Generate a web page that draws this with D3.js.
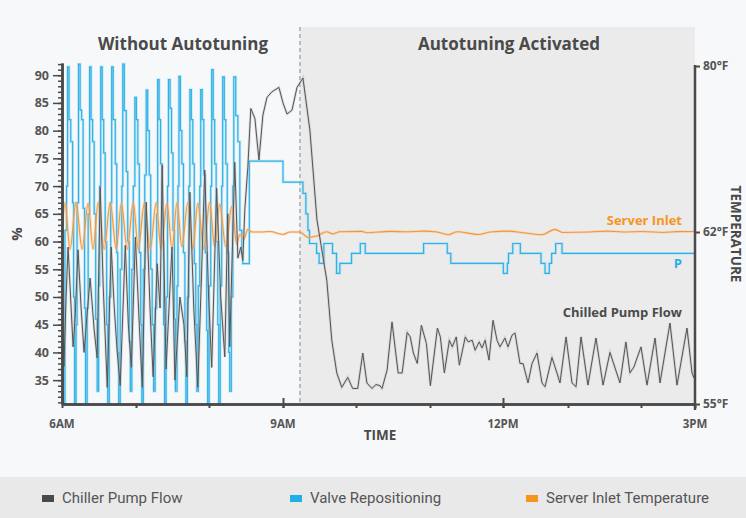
<!DOCTYPE html>
<html>
<head>
<meta charset="utf-8">
<script src="https://cdn.jsdelivr.net/npm/d3@7"></script>
<style>
  body { margin: 0; background: #f7f8fa; }
  svg { display: block; }
</style>
</head>
<body>
<script>
var width = 746;
var height = 518;

// time is minutes after 6AM
var hourTicks = [0, 60, 120, 180, 240, 300, 360, 420, 480, 540];
var hourLabels = {0: "6AM", 180: "9AM", 360: "12PM", 540: "3PM"};
var pctTicks = [35, 40, 45, 50, 55, 60, 65, 70, 75, 80, 85, 90];
var tempTicks = [80, 62, 55];
var autotuneStart = 193.9;

var legendLabels = ["Chiller Pump Flow", "Valve Repositioning", "Server Inlet Temperature"];
var legendColors = ["#4a4a4a", "#1fb0e6", "#f7941e"];

// chiller pump flow, %
var chillerFlow = [
  [0,45.8],[1.6,37.5],[3.3,50],[4.9,59],[6.5,52],[9.0,41],[10.6,46],[13.0,58.5],[15.5,48],[17.9,40],
  [20.4,47],[22.8,53.4],[26.1,44],[28.5,39],[31.0,69.8],[33.4,52],[36.7,33.7],[39.9,59],[42.4,48],[44.8,40],
  [47.2,34],[51.3,59.3],[53.8,45],[56.2,37.3],[59.5,60.8],[62.7,45],[65.2,33.7],[68.4,67.1],[71.7,47],[74.1,35.6],
  [77.4,56],[79.8,48],[81.5,73.8],[84.7,37],[88.0,52],[89.6,59],[92.0,35],[96.1,50],[99.4,45],[101.8,35.6],
  [104.3,68.9],[107.5,48],[110.8,33.7],[114.0,55],[116.5,72.9],[119.7,50],[122.2,37.3],[126.2,69.6],[129.5,50],[132.8,39.2],
  [135.2,65],[136.8,41],[138.5,55],[140.9,74.3],[143.4,57],[145.8,59],[147.4,56.6],[149.1,66],[151.5,73.4],[153.9,84],
  [157.2,82.2],[160.5,74.7],[163.7,82.8],[167.0,86],[171.0,87],[176.7,87.8],[180,85],[183.3,83],[187.4,83.7],[191.5,87.8],
  [196.4,89.5],[202.1,80.1],[207.9,63.9],[216.0,53],[220.1,42.2],[224.2,36.3],[228.3,33.7],[233.2,35.5],[237.3,33.5],[241.4,33.5],
  [245.5,39.9],[248.8,34.5],[252.9,33.5],[256.2,34.2],[259.5,34],[261.1,33.5],[265.2,36.8],[269.2,45.5],[274.2,36.3],[277.4,36.3],
  [281.5,43.6],[284.0,42.8],[286.5,39.9],[289.7,38],[293.0,44.9],[297.1,41.6],[300.3,34],[306.1,44.4],[308.5,42.8],[311.8,36.3],
  [315.9,42.2],[318.3,41],[321.6,42.8],[324.1,37.7],[329.0,42.8],[331.4,41.9],[334.7,42.2],[337.1,40.4],[340.4,41.9],[342.8,40.8],
  [345.3,42.2],[348.5,38.6],[351.8,45.8],[355.1,42.2],[357.5,41],[361.8,42.6],[364.6,41],[368.3,43.1],[371.1,43.5],[375.7,38],
  [378.5,38],[383.1,34.5],[386.8,38],[391.4,39.9],[396.0,34.5],[398.8,33.8],[405.2,39.1],[409.8,36.3],[412.6,34.5],[418.2,42.8],
  [423.3,34.5],[426.6,33.8],[430.7,42.8],[436.4,34.1],[443.0,42.6],[448.8,34.1],[454.5,40],[462.7,34.5],[467.6,41.9],[470.9,36.3],
  [474.2,37.4],[480,41],[486.7,34.1],[495.6,42.6],[501.1,34.5],[512.2,45.3],[520.0,34.1],[531.1,44.4],[536.7,36.3],[538.9,35.4]
];

// valve repositioning, % (stepped)
var valvePosition = [
  [0,48],[1.2,28],[2.4,62],[3.7,70],[4.5,91.5],[5.7,82],[7.1,78],[8.6,67],[9.4,50],[10.2,28],
  [11.4,45],[12.2,67],[13.4,92],[14.7,83.7],[15.9,82],[17.1,66],[18.3,48],[19.1,28],[20.4,48],[21.2,65],
  [22.4,91.5],[23.6,82],[24.8,78],[26.1,65],[27.3,46],[28.5,33],[29.7,52],[30.5,70],[31.4,91.5],[32.6,82],
  [33.8,76],[35.0,60],[36.2,45],[37.1,28],[38.3,50],[39.5,67],[40.3,91.5],[41.5,82],[43.2,74],[44.4,58],
  [45.2,40],[46.0,28],[47.2,55],[48.5,70],[49.3,92],[50.5,83.6],[52.1,72.6],[53.3,60],[54.6,42],[55.4,33],
  [56.6,55],[57.8,70],[59.1,86],[60.3,82],[61.5,74],[62.7,58],[63.9,45],[64.8,30],[66.0,55],[67.2,72],
  [68.4,87.3],[69.6,80],[70.9,72],[72.1,55],[73.3,45],[74.5,33],[75.7,48],[77.0,65],[77.8,89.2],[79.0,82],
  [80.2,74],[81.5,60],[82.7,45],[83.5,28],[84.7,50],[85.9,70],[86.7,89.2],[88.0,84],[89.2,76],[90.4,62],
  [91.6,46],[92.4,33],[93.7,52],[94.5,70],[95.3,89.8],[96.5,80],[97.7,74],[99.0,58],[100.2,42],[101.0,28],
  [102.2,50],[103.4,70],[104.3,87.4],[105.5,82],[106.7,74],[107.9,56],[109.1,45],[110.0,33],[111.2,52],[112.4,70],
  [113.2,87.4],[114.4,82],[115.7,72],[116.9,58],[118.1,44],[118.9,30],[120.1,52],[121.4,70],[122.2,91],[123.4,82],
  [124.6,74],[125.8,60],[127.1,45],[127.9,28],[129.1,52],[130.3,70],[131.1,89.7],[132.4,82],[133.6,74],[134.8,58],
  [136.0,40],[136.8,33],[138.1,50],[139.3,70],[140.1,89.7],[141.7,82.7],[143.4,78],[145.0,62],[146.6,58],[147.4,56],
  [152.7,74.5],[180,70.7],[196.4,68.7],[198.8,65],[200.5,62],[201.8,59.65],[207.6,57.85],[209.7,56.05],[213.6,59.65],[220.7,57.85],
  [224.0,54.25],[226.7,56.05],[236.3,57.85],[243.5,59.65],[247.5,57.85],[294.8,59.65],[314.2,57.85],[317.1,56.05],[360.3,54.25],[364.0,56.05],
  [365.1,57.85],[369.0,59.65],[376.0,57.85],[395.1,56.05],[398.8,54.25],[402.7,56.05],[404.9,57.85],[408.6,59.65],[414.5,57.85],[539,57.85]
];

// server inlet temperature, °F
var serverInlet = [
  [0,61.6],[2.4,65.2],[6.5,61.3],[11.4,65.2],[16.3,61.3],[21.2,65.1],[25.2,61.3],[29.3,65.2],[34.2,61.3],[39.1,65.2],
  [44.0,61.3],[48.1,65.1],[52.9,61.3],[57.8,65.2],[61.9,61.3],[66.8,65.1],[71.7,61.3],[76.6,65.2],[80.6,61.3],[85.5,65.1],
  [89.6,61.3],[93.7,65.2],[97.7,61.4],[102.6,65.2],[106.7,61.3],[110.8,65.1],[115.7,61.3],[120.5,65.2],[124.6,61.4],[128.7,65],
  [133.6,61.4],[138.5,64.8],[142.5,61.5],[145.0,61.9],[148.2,61.7],[151.5,62.3],[154.8,62.0],[161.3,62.0],[169.4,62.05],[180,61.9],
  [185.7,62.0],[193.9,62.0],[200.5,61.78],[207.8,61.84],[216.0,62.03],[220.9,61.92],[226.6,62.03],[244.6,62.07],[248.7,61.97],[267.5,62.07],
  [281.4,62.02],[294.5,62.1],[306.0,62.0],[315.0,61.89],[322.3,62.02],[339.5,61.9],[349.4,62.0],[364.6,62.1],[378.5,61.97],[396.0,61.89],
  [408.0,62.29],[415.4,61.98],[438.1,62.0],[452.1,62.1],[465.2,62.0],[482.2,62.05],[504.4,61.98],[520.0,62.04],[537.8,62.05],[540,62.05]
];

var svg = d3.select("body")
            .append("svg")
            .attr("width", width)
            .attr("height", height);

var x = d3.scaleLinear()
          .domain(hourTicks)
          .range([62, 136, 209, 283, 356, 430, 503, 568, 641, 695]);
var y = d3.scaleLinear().domain([30.7, 92.2]).range([404, 63]);
var yTemp = d3.scaleLinear().domain([55, 62, 80]).range([404, 232, 66]);

var font = "'Open Sans', sans-serif";
var ink = "#4a4a4a";

svg.append("rect").attr("width", width).attr("height", height).attr("fill", "#f7f8fa");

// shaded autotuning region
svg.append("rect")
  .attr("x", x(autotuneStart))
  .attr("y", 27)
  .attr("width", x(540) - x(autotuneStart))
  .attr("height", 404 - 27)
  .attr("fill", "#ebebeb");

svg.append("line")
  .attr("x1", x(autotuneStart)).attr("x2", x(autotuneStart))
  .attr("y1", 27).attr("y2", 404)
  .attr("stroke", "#9a9a9a")
  .attr("stroke-width", 1.2)
  .attr("stroke-dasharray", "4,3");

// section titles
svg.append("text")
  .attr("x", 183).attr("y", 50)
  .attr("text-anchor", "middle")
  .style("font", "700 17px " + font)
  .attr("fill", ink)
  .text("Without Autotuning");
svg.append("text")
  .attr("x", 509).attr("y", 50)
  .attr("text-anchor", "middle")
  .style("font", "700 17px " + font)
  .attr("fill", ink)
  .text("Autotuning Activated");

svg.append("clipPath").attr("id", "plot")
  .append("rect").attr("x", 62).attr("y", 56).attr("width", 633).attr("height", 348);

var plot = svg.append("g").attr("clip-path", "url(#plot)");

var pctLine = d3.line().x(function(d) { return x(d[0]); }).y(function(d) { return y(d[1]); });
var stepLine = d3.line().curve(d3.curveStepAfter).x(function(d) { return x(d[0]); }).y(function(d) { return y(d[1]); });
var tempLine = d3.line().curve(d3.curveMonotoneX).x(function(d) { return x(d[0]); }).y(function(d) { return yTemp(d[1]); });

var drawSeries = function(data, gen, under, over, w) {
  plot.append("path").datum(data).attr("d", gen)
    .attr("fill", "none").attr("stroke", under).attr("stroke-width", w + 1.6).attr("opacity", 0.45);
  plot.append("path").datum(data).attr("d", gen)
    .attr("fill", "none").attr("stroke", over).attr("stroke-width", w);
};

drawSeries(valvePosition, stepLine, "#8fd4f2", "#2fb2e6", 1.2);
drawSeries(serverInlet, tempLine, "#f9c48c", "#f4963a", 1.1);
drawSeries(chillerFlow, pctLine, "#b5b5b5", "#555555", 1.0);

// left axis
var left = svg.append("g").attr("transform", "translate(62,0)");
left.call(d3.axisLeft(y).tickValues(d3.range(31, 93)).tickSize(4).tickSizeOuter(0).tickFormat(""));
left.append("g").call(d3.axisLeft(y).tickValues(pctTicks).tickSize(9).tickSizeOuter(0));
left.selectAll("path.domain").attr("stroke", ink).attr("stroke-width", 2.5);
left.selectAll("line").attr("stroke", ink).attr("stroke-width", 1.5);
left.selectAll("text").style("font", "700 12.5px " + font).attr("fill", "#555").attr("x", -13);

// bottom axis
var bottom = svg.append("g").attr("transform", "translate(0,404)");
bottom.call(d3.axisBottom(x).tickValues(hourTicks).tickSize(4).tickSizeOuter(0).tickFormat(""));
bottom.append("g").call(d3.axisBottom(x).tickValues([180, 360]).tickSize(4).tickSizeOuter(0).tickFormat(""))
  .selectAll(".tick line").attr("y1", -6).attr("y2", 4);
bottom.selectAll("path.domain").attr("stroke", ink).attr("stroke-width", 2.5);
bottom.selectAll("line").attr("stroke", ink).attr("stroke-width", 2);
bottom.selectAll("text.hour").data([0, 180, 360, 540]).enter().append("text")
  .attr("class", "hour")
  .attr("x", function(d) { return x(d); })
  .attr("y", 24)
  .attr("text-anchor", "middle")
  .style("font", "700 11.5px " + font)
  .attr("fill", "#555")
  .text(function(d) { return hourLabels[d]; });

// right axis
var right = svg.append("g").attr("transform", "translate(695,0)");
right.call(d3.axisRight(yTemp).tickValues(tempTicks).tickSize(5).tickSizeOuter(0)
  .tickFormat(function(d) { return d + "°F"; }));
right.select("path.domain").attr("d", "M0," + (yTemp(80) - 1) + "V410");
right.selectAll("path.domain").attr("stroke", ink).attr("stroke-width", 2.5);
right.selectAll("line").attr("stroke", ink).attr("stroke-width", 2);
right.selectAll("text").style("font", "700 12px " + font).attr("fill", "#555").attr("x", 8);

// axis titles
svg.append("text")
  .attr("transform", "translate(22,234) rotate(-90)")
  .attr("text-anchor", "middle")
  .style("font", "700 15px " + font)
  .attr("fill", ink)
  .text("%");
svg.append("text")
  .attr("transform", "translate(731,234) rotate(90)")
  .attr("text-anchor", "middle")
  .style("font", "700 13.5px " + font)
  .attr("fill", ink)
  .text("TEMPERATURE");
svg.append("text")
  .attr("x", 380).attr("y", 440)
  .attr("text-anchor", "middle")
  .style("font", "700 13.5px " + font)
  .attr("fill", ink)
  .text("TIME");

// series annotations
svg.append("text").attr("x", 682).attr("y", 225).attr("text-anchor", "end")
  .style("font", "700 13px " + font).attr("fill", "#f7941e").text("Server Inlet");
svg.append("text").attr("x", 682).attr("y", 268).attr("text-anchor", "end")
  .style("font", "700 13px " + font).attr("fill", "#1fb0e6").text("P");
svg.append("text").attr("x", 682).attr("y", 317).attr("text-anchor", "end")
  .style("font", "700 13px " + font).attr("fill", ink).text("Chilled Pump Flow");

// legend
svg.append("rect").attr("x", 0).attr("y", 477).attr("width", width).attr("height", 41).attr("fill", "#e9e9e9");
var legendX = [42, 290, 526];
var item = svg.selectAll("g.legend").data(legendLabels).enter().append("g")
  .attr("class", "legend")
  .attr("transform", function(d, i) { return "translate(" + legendX[i] + ",498)"; });
item.append("rect").attr("x", 0).attr("y", -3).attr("width", 12).attr("height", 7)
  .attr("fill", function(d, i) { return legendColors[i]; });
item.append("text").attr("x", 20).attr("y", 5)
  .style("font", "400 15px Roboto, sans-serif")
  .attr("fill", "#555")
  .text(function(d) { return d; });
</script>
</body>
</html>
